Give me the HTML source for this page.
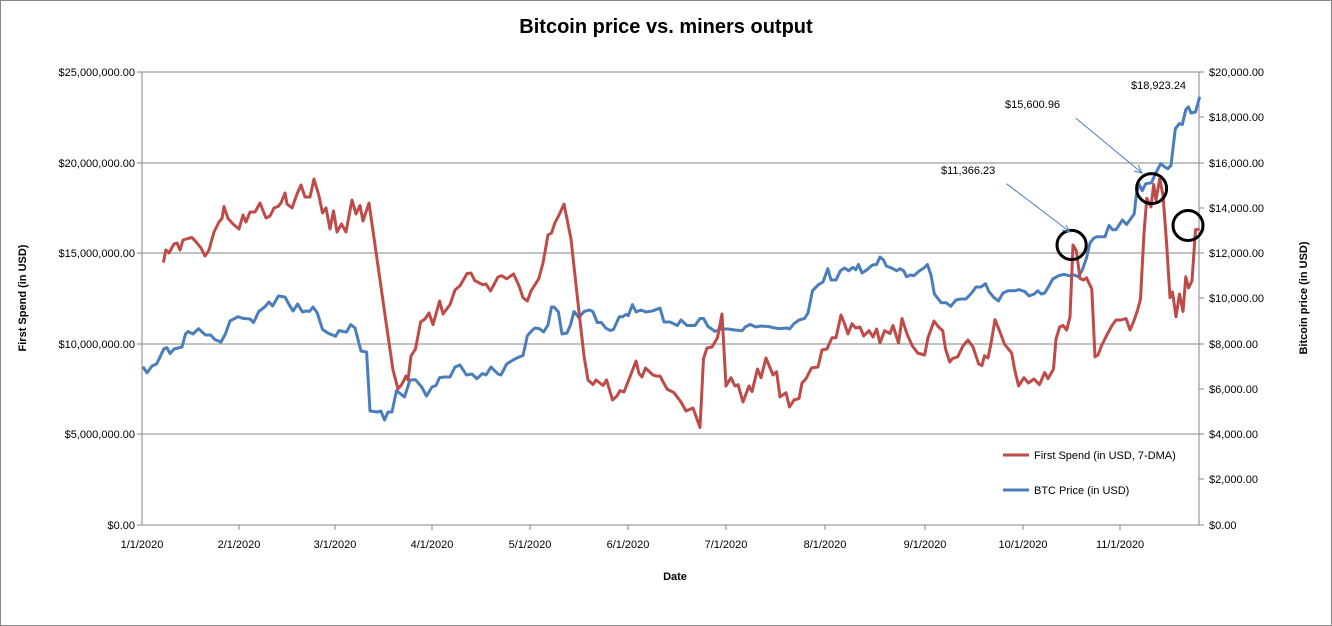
<!DOCTYPE html>
<html><head><meta charset="utf-8"><style>
html,body{margin:0;padding:0;background:#fff}
svg{display:block;font-family:"Liberation Sans",Arial,sans-serif}
</style></head><body>
<svg width="1332" height="626" viewBox="0 0 1332 626" xmlns="http://www.w3.org/2000/svg">
<rect x="0.5" y="0.5" width="1331" height="625" fill="#fff" stroke="#888"/>
<text x="666" y="33" text-anchor="middle" font-size="20" font-weight="bold">Bitcoin price vs. miners output</text>
<g stroke="#868686" stroke-width="1" shape-rendering="crispEdges">
<line x1="142" y1="72" x2="1199" y2="72"/><line x1="142" y1="163" x2="1199" y2="163"/>
<line x1="142" y1="253" x2="1199" y2="253"/><line x1="142" y1="344" x2="1199" y2="344"/>
<line x1="142" y1="434" x2="1199" y2="434"/><line x1="142" y1="525" x2="1199" y2="525"/>
<line x1="142" y1="72" x2="142" y2="525"/><line x1="1199" y1="72" x2="1199" y2="525"/>
<g id="lt"><line x1="137" y1="72" x2="142" y2="72"/><line x1="137" y1="163" x2="142" y2="163"/><line x1="137" y1="253" x2="142" y2="253"/><line x1="137" y1="344" x2="142" y2="344"/><line x1="137" y1="434" x2="142" y2="434"/><line x1="137" y1="525" x2="142" y2="525"/></g>
<line x1="1199" y1="117" x2="1204" y2="117"/><line x1="1199" y1="163" x2="1204" y2="163"/><line x1="1199" y1="208" x2="1204" y2="208"/><line x1="1199" y1="253" x2="1204" y2="253"/><line x1="1199" y1="298" x2="1204" y2="298"/><line x1="1199" y1="344" x2="1204" y2="344"/><line x1="1199" y1="389" x2="1204" y2="389"/><line x1="1199" y1="434" x2="1204" y2="434"/><line x1="1199" y1="479" x2="1204" y2="479"/><line x1="1199" y1="72" x2="1204" y2="72"/><line x1="1199" y1="525" x2="1204" y2="525"/>
<line x1="239" y1="525" x2="239" y2="530"/><line x1="335" y1="525" x2="335" y2="530"/><line x1="432" y1="525" x2="432" y2="530"/><line x1="530" y1="525" x2="530" y2="530"/><line x1="628" y1="525" x2="628" y2="530"/><line x1="726" y1="525" x2="726" y2="530"/><line x1="825" y1="525" x2="825" y2="530"/><line x1="925" y1="525" x2="925" y2="530"/><line x1="1023" y1="525" x2="1023" y2="530"/><line x1="1120" y1="525" x2="1120" y2="530"/>
</g>
<g font-size="11" text-anchor="end">
<text x="135" y="76">$25,000,000.00</text><text x="135" y="167">$20,000,000.00</text><text x="135" y="257">$15,000,000.00</text><text x="135" y="348">$10,000,000.00</text><text x="135" y="438">$5,000,000.00</text><text x="135" y="529">$0.00</text>
</g>
<g font-size="11">
<text x="1209" y="76">$20,000.00</text><text x="1209" y="121">$18,000.00</text><text x="1209" y="167">$16,000.00</text><text x="1209" y="212">$14,000.00</text><text x="1209" y="257">$12,000.00</text><text x="1209" y="302">$10,000.00</text><text x="1209" y="348">$8,000.00</text><text x="1209" y="393">$6,000.00</text><text x="1209" y="438">$4,000.00</text><text x="1209" y="483">$2,000.00</text><text x="1209" y="529">$0.00</text>
</g>
<g font-size="11" text-anchor="middle">
<text x="142" y="548">1/1/2020</text><text x="239" y="548">2/1/2020</text><text x="335" y="548">3/1/2020</text><text x="432" y="548">4/1/2020</text><text x="530" y="548">5/1/2020</text><text x="628" y="548">6/1/2020</text><text x="726" y="548">7/1/2020</text><text x="825" y="548">8/1/2020</text><text x="925" y="548">9/1/2020</text><text x="1023" y="548">10/1/2020</text><text x="1120" y="548">11/1/2020</text>
</g>
<text x="675" y="580" font-size="11" font-weight="bold" text-anchor="middle">Date</text>
<text transform="translate(26,298) rotate(-90)" font-size="11" font-weight="bold" text-anchor="middle">First Spend (in USD)</text>
<text transform="translate(1307,298) rotate(-90)" font-size="11" font-weight="bold" text-anchor="middle">Bitcoin price (in USD)</text>
<polyline fill="none" stroke="#4a7ebb" stroke-width="3" stroke-linejoin="round" points="142.8,366.6 147,372.8 152,366 156.5,364 160.7,355.6 164,348.7 167,347.7 170,353.5 174,349 182,347 185.5,334 188,331.5 193,334 198.5,328.7 205.4,335 210.6,335 215,339.7 221,342 225.4,334 230,321 238,316.7 243,318.4 250,319 253.6,322.5 258.8,311.5 264.7,307 269,302 272.6,306 278.4,296 285,297 288.8,304 293,311 297.7,304 302.5,312 306,311 309.4,311.5 313,307 317.3,313 322.5,329.4 327.7,333 335.6,336.3 339,330.5 343,331.5 346.6,332 350.7,324.6 355,328 361,351 366.6,352 370,411 377.6,412 381,411 384.5,420 388,412 392,412 396.5,390.7 404.5,397 410,380 415.5,379.7 421.7,387 426.5,396 432,387 436,385.5 439.6,377.6 444.7,377 450,377 455,367 460,365 466.4,375 472,374 476.8,378.7 482.6,373.5 486,375 491,367 498,374 501,375 506.7,364 513.6,359.7 519,357 523,355.6 527.4,335.6 532,330.5 535,328 539.5,328.7 543.6,332 548,325 551.5,307 554,307 558.4,312 562,334 567,333 570.5,325 574,311.5 579,317.7 584,311.5 589.4,310 592.8,311.5 597.3,322.5 601.4,322.5 605.6,328 610,330.5 613.5,329.4 619.3,316.7 622.8,316.7 626.2,314.3 628.3,315.6 632.4,304.6 636,312 641,310 646,312 653,310.8 660,308 664,322 670,322 677.4,325.5 681,320 687,325.5 695,325.5 700,318.5 703.5,318.5 708,326.5 715,331.4 721,329 728,329 735,330 742,330.7 745.3,327 750,324.4 755.7,327 761,326 768,326.5 775,328 780,328.6 787,328 789.5,329 794,323.7 799,320 804.5,318.5 808,313 812.5,290.7 818.4,284.7 823,282 827.8,268.7 831,280 836,280 840.4,270.8 844.5,268 848.7,270.8 853,267.3 855.7,269.8 858.5,264.5 862,273 867,269.8 872.4,265 876.6,264.5 880,257 883.5,260 886.3,266 891.5,268 896.8,270.8 900,268.7 903.7,270.8 906.5,276.7 910.7,275 914,275.7 919.4,270.8 924,268 927.4,264.5 931,275 934.4,294 941.3,302.8 946.2,302.8 950.7,306.3 956,300 961,299 966,299 971.6,293 976,287 981,287 985.5,283.7 989,291.7 994,297.6 998.4,301 1003,293 1008,290.7 1015,290.7 1019.3,289.6 1025,291.7 1029,296 1034.3,294 1037.8,290.7 1041.3,294 1044.7,293 1049.3,285.4 1052.7,279 1058.7,275.7 1064,274.3 1069,275.7 1074.3,275 1078,276.7 1082,270.8 1086.5,258 1090,243 1093.5,238.4 1097,236.7 1101.5,236.7 1105,236.7 1109,225.5 1112.6,229.7 1116,229.7 1122.4,220 1126.6,224.5 1130.8,218.6 1134.2,214 1136.3,195 1138.8,183.8 1142.2,190.7 1145.7,183.8 1151.6,182.7 1155,174.7 1160.7,163.6 1164,166.4 1167.7,168.8 1171,165.3 1175.3,128.7 1179.5,123.5 1182.3,124.6 1185.8,109.6 1188.5,107 1191,113 1195.5,112 1199.7,96.7"/>
<polyline fill="none" stroke="#be4b48" stroke-width="3" stroke-linejoin="round" points="163.4,262.6 165.8,250 169,253 174,244 177,243 180,250 183,240 188,238.5 192,237.5 197,243 201,248 205,256 209,250 214,232 219,222 222,218.5 224,206.5 228,218.5 233,224 239,229 243,215 246,222 250,212 255,212 260,203 266,218 270,216 274,208 278,206.5 281,203 285,193 287,204 292,208 297,194 301,185 305,197 310,197 314,179 319,196 322.5,213 326,208 330,229 333.5,211 337,232 341.5,224 346,232 352,200 356,214 360,205.5 363,221 369,203 377.6,263 384.5,311.5 393,370 398,389 402,384 406,376 408,380 411,356 415.5,349 420.6,322 425,319 429,313 433,324.6 439.6,301 443,314 450,304.6 455,290 460,285.7 467,273.6 471,273 474.7,280.5 482.6,284.7 486,284 490.5,291 498,277 501.6,275.7 506.7,278.8 513.6,274 519,285.7 523,297.7 527.4,301 531,291 538.7,278.8 543,263 548,235 551.5,233 555,222.7 560,213 564,204 571,239 577,294 584,356 588,380 593,384.5 596,380 603,385.5 606.6,380 612.5,400 617,396 620,390.7 624,392 630.7,375 636,361 639,373.5 642,377 645.5,368 653,375 656.5,376 660,376 667,389 674,392.7 681,402 686,411 693,408 700,427.5 703.5,358.6 707,348 712,347 717.5,337.7 722,314 726,386 731,377.7 735,386 738,384.7 743,402 749,386 752,391.6 757.5,369 761,377.7 766,358 773,375 776.6,371.8 780,396.9 786,392.7 789.5,407 794,400 799,398.6 802,383 806,378.7 811.5,368 818,367 822,350 827,349 832,337.7 836,337.7 841,315 844.5,323.7 848,334 852,323.7 855.7,328 860,327 863.7,336 869,330.7 873,337 876.6,329 880,343 884.6,330.7 890,333.5 893,325.5 898.5,343 902,318.5 907,334 912.4,346 917.7,353 924.6,355 928,337.7 934,321 938.6,327 942.7,330.7 945.5,348.8 949.7,362 952.5,358.6 957.7,356.8 963,346 968,340 973,347 978.6,363.8 982,365.5 984.5,355.8 988,358 990.8,344.6 995,319.6 999.5,330.7 1004.7,344.6 1011.7,353 1014.5,369 1018.6,386 1024,377.7 1028.4,383 1034,379 1039.5,384.7 1044.7,372.5 1048,378.7 1053.5,369 1056,339 1059.7,327 1063,325.5 1066.7,330 1070,316.8 1073,245 1076.4,251 1080,278.5 1083.4,280 1086.5,277.8 1091.8,289 1095,356.8 1098,355 1102,344.6 1107.4,334 1112,325.5 1116,320 1121,320 1126,318.5 1130,330 1133.5,322 1137.7,309.8 1140.5,299 1144,233 1146.8,198.4 1151,207 1153.7,184.5 1156,200 1159.7,179 1163,195 1166.6,243.6 1170,297.6 1172.5,292 1176,316.8 1179.5,294 1183,311.5 1185.8,276.7 1188.5,288 1192,281 1195.5,229.7 1199.7,229"/>
<g fill="none" stroke="#000" stroke-width="3">
<circle cx="1071.6" cy="245" r="14.6"/><circle cx="1151.6" cy="188.6" r="15"/><circle cx="1188" cy="225.5" r="15"/>
</g>
<g stroke="#4a7ebb" stroke-width="1" fill="none">
<line x1="1006.5" y1="183.7" x2="1070" y2="232"/><polyline points="1062,230 1070,232 1066,225"/>
<line x1="1076" y1="118.3" x2="1142" y2="173"/><polyline points="1134,171 1142,173 1138,165"/>
</g>
<g font-size="11">
<text x="941" y="174">$11,366.23</text><text x="1005" y="108">$15,600.96</text><text x="1131" y="89">$18,923.24</text>
</g>
<line x1="1003" y1="455" x2="1029" y2="455" stroke="#be4b48" stroke-width="3"/>
<text x="1034" y="459" font-size="11">First Spend (in USD, 7-DMA)</text>
<line x1="1003" y1="490" x2="1029" y2="490" stroke="#4a7ebb" stroke-width="3"/>
<text x="1034" y="494" font-size="11">BTC Price (in USD)</text>
</svg>
</body></html>
